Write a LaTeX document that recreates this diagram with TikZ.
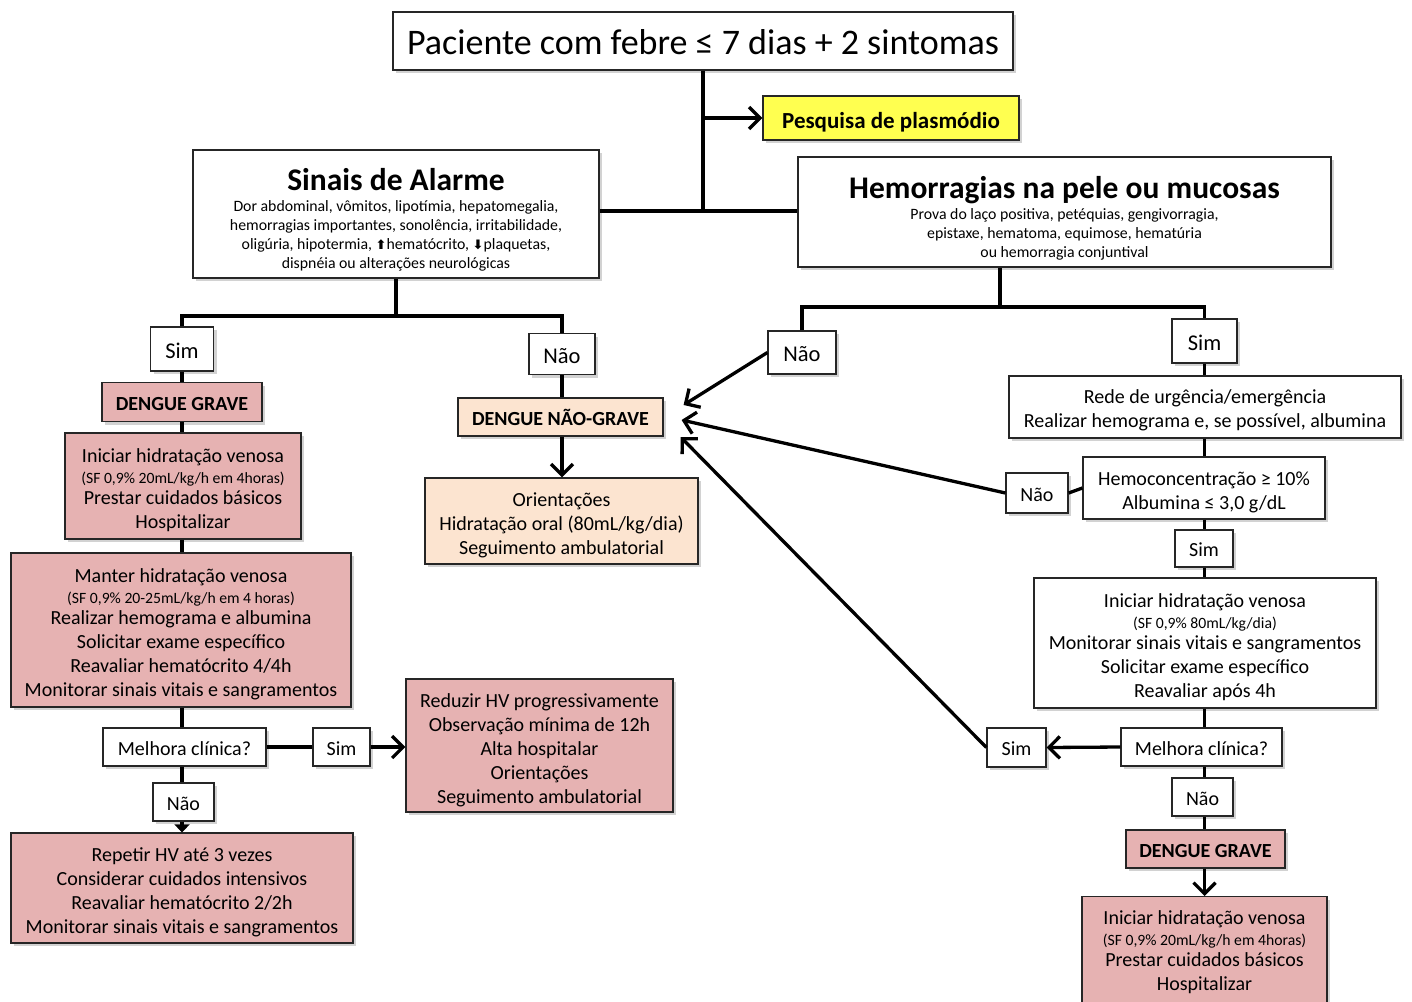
\documentclass[tikz,border=0pt]{standalone}
\usepackage{fontspec}
\setmainfont{Carlito}
\newfontfamily\symfont{DejaVu Sans}
\usetikzlibrary{arrows.meta,shadows,calc}
\definecolor{pinkfill}{RGB}{230,178,178}
\definecolor{peachfill}{RGB}{252,228,208}
\definecolor{yellowfill}{RGB}{255,255,80}
\newcommand\fsTitle{\fontsize{36}{40}\selectfont}
\newcommand\fsHead{\fontsize{31.5}{34}\selectfont\bfseries}
\newcommand\fsNorm{\fontsize{20}{24}\selectfont}
\newcommand\fsPar{\fontsize{15.7}{21}\selectfont}
\newcommand\fsDesc{\fontsize{15.8}{19}\selectfont}
\newcommand\fsLab{\fontsize{22.5}{26}\selectfont}
\newcommand\fsBold{\fontsize{20}{24}\selectfont\bfseries}
\newcommand\upar{{\symfont\bfseries\fontsize{13}{13}\selectfont ⬆}}
\newcommand\dnar{{\symfont\bfseries\fontsize{13}{13}\selectfont ⬇}}
\newcommand\dn[1]{\rule{0pt}{#1pt}}
\tikzset{
  box/.style={draw=black!85, line width=1.2pt, fill=white, align=center, inner sep=3pt,
    drop shadow={shadow xshift=3pt, shadow yshift=-3pt, opacity=0.35}},
  wh/.style 2 args={minimum width=#1pt, minimum height=#2pt},
  conn/.style={line width=3.3pt},
  arr/.style={conn, -{Straight Barb[length=11pt,width=22pt]}},
  tri/.style={conn, -{Triangle[length=8pt,width=15pt]}}
}
\begin{document}
\begin{tikzpicture}[x=1pt,y=-1pt]
\fill[white] (0,0) rectangle (1412,1001);
\clip (0,0) rectangle (1412,1001);
% top
\node[box, wh={620}{58}, font=\fsTitle] (top) at (703,41) {\dn{28}Paciente com febre ≤ 7 dias + 2 sintomas};
\node[box, fill=yellowfill, wh={256}{44}, font=\fontsize{23}{26}\selectfont\bfseries] (plas) at (891,118) {\dn{24}Pesquisa de plasmódio};
\node[box, wh={406}{128}, font=\fsDesc] (alarme) at (396,214) {\dn{34}{\fsHead Sinais de Alarme}\\[2pt] Dor abdominal, vômitos, lipotímia, hepatomegalia,\\ hemorragias importantes, sonolência, irritabilidade,\\ oligúria, hipotermia, \upar hematócrito, \dnar plaquetas,\\ dispnéia ou alterações neurológicas};
\node[box, wh={533}{110}, font=\fsDesc] (hemo) at (1064.5,212) {\dn{34}{\fsHead Hemorragias na pele ou mucosas}\\[2pt] Prova do laço positiva, petéquias, gengivorragia,\\ epistaxe, hematoma, equimose, hematúria\\ ou hemorragia conjuntival};
% left column
\node[box, wh={63}{44}, font=\fsLab] (simA) at (182,349) {\dn{19}Sim};
\node[box, wh={66}{41}, font=\fsLab] (naoA) at (562,354) {\dn{19}Não};
\node[box, fill=pinkfill, wh={160}{39}, font=\fsBold] (graveA) at (182,402) {\dn{17}DENGUE GRAVE};
\node[box, fill=pinkfill, wh={236}{106}, font=\fsNorm] (iniA) at (183,486) {\dn{22}Iniciar hidratação venosa\\[-3pt] {\fsPar (SF 0,9\% 20mL/kg/h em 4horas)}\\[-3pt] Prestar cuidados básicos\\ Hospitalizar};
\node[box, fill=pinkfill, wh={340}{154}, font=\fsNorm] (manA) at (181,630) {\dn{22}Manter hidratação venosa\\[-3pt] {\fsPar (SF 0,9\% 20-25mL/kg/h em 4 horas)}\\[-3pt] Realizar hemograma e albumina\\ Solicitar exame específico\\ Reavaliar hematócrito 4/4h\\ Monitorar sinais vitais e sangramentos};
\node[box, wh={163}{38}, font=\fsNorm] (melA) at (184.5,747) {\dn{17}Melhora clínica?};
\node[box, wh={57}{38}, font=\fsNorm] (simB) at (341.5,747) {\dn{17}Sim};
\node[box, fill=pinkfill, wh={267}{133}, font=\fsNorm] (redA) at (539.5,745.5) {\dn{23}Reduzir HV progressivamente\\ Observação mínima de 12h\\ Alta hospitalar\\ Orientações\\ Seguimento ambulatorial};
\node[box, wh={61}{38}, font=\fsNorm] (naoB) at (183.5,802) {\dn{17}Não};
\node[box, fill=pinkfill, wh={342}{110}, font=\fsNorm] (repA) at (182,888) {\dn{22}Repetir HV até 3 vezes\\ Considerar cuidados intensivos\\ Reavaliar hematócrito 2/2h\\ Monitorar sinais vitais e sangramentos};
% middle
\node[box, fill=peachfill, wh={205}{38}, font=\fsBold] (ngA) at (560.5,417) {\dn{17}DENGUE NÃO-GRAVE};
\node[box, fill=peachfill, wh={273}{86}, font=\fsNorm] (oriA) at (561.5,521) {\dn{22}Orientações\\ Hidratação oral (80mL/kg/dia)\\ Seguimento ambulatorial};
% right column
\node[box, wh={68}{43}, font=\fsLab] (naoC) at (802,352.5) {\dn{19}Não};
\node[box, wh={65}{44}, font=\fsLab] (simC) at (1204.5,341) {\dn{19}Sim};
\node[box, wh={392}{62}, font=\fsNorm] (rede) at (1205,407) {\dn{21}Rede de urgência/emergência\\ Realizar hemograma e, se possível, albumina};
\node[box, wh={242}{62}, font=\fsNorm] (hemoc) at (1204,488) {\dn{22}Hemoconcentração ≥ 10\%\\ Albumina ≤ 3,0 g/dL};
\node[box, wh={62}{40}, font=\fsNorm] (naoD) at (1037,493) {\dn{17}Não};
\node[box, wh={58}{37}, font=\fsNorm] (simD) at (1204,548.5) {\dn{17}Sim};
\node[box, wh={342}{130}, font=\fsNorm] (iniC) at (1205,643) {\dn{22}Iniciar hidratação venosa\\[-3pt] {\fsPar (SF 0,9\% 80mL/kg/dia)}\\[-3pt] Monitorar sinais vitais e sangramentos\\ Solicitar exame específico\\ Reavaliar após 4h};
\node[box, wh={161}{38}, font=\fsNorm] (melC) at (1201.5,747) {\dn{17}Melhora clínica?};
\node[box, wh={59}{39}, font=\fsNorm] (simE) at (1016.5,747.5) {\dn{17}Sim};
\node[box, wh={61}{38}, font=\fsNorm] (naoE) at (1202.5,797) {\dn{17}Não};
\node[box, fill=pinkfill, wh={159}{38}, font=\fsBold] (graveC) at (1205.5,849) {\dn{17}DENGUE GRAVE};
\node[box, fill=pinkfill, wh={245}{112}, font=\fsNorm, anchor=north] (iniD) at (1204.5,896) {Iniciar hidratação venosa\\[-3pt] {\fsPar (SF 0,9\% 20mL/kg/h em 4horas)}\\[-3pt] Prestar cuidados básicos\\ Hospitalizar};
% connectors top
\coordinate (jA) at (703,211);
\draw[conn] (top.south) -- (jA);
\draw[conn] (alarme.east |- jA) -- (hemo.west |- jA);
\draw[arr] (top.south |- plas.west) -- (plas.west);
% left tree
\coordinate (jB) at (396,316);
\draw[conn] (alarme.south) -- (jB);
\draw[conn] (simA.north) -- (simA.north |- jB) -- (naoA.north |- jB) -- (naoA.north);
\draw[conn] (simA.south) -- (simA.south |- graveA.north);
\draw[conn] (simA.south |- graveA.south) -- (simA.south |- iniA.north);
\draw[conn] (simA.south |- iniA.south) -- (simA.south |- manA.north);
\draw[conn] (simA.south |- manA.south) -- (simA.south |- melA.north);
\draw[conn] (melA.east) -- (simB.west);
\draw[arr] (simB.east) -- (redA.west |- simB.east);
\draw[conn] (simA.south |- melA.south) -- (simA.south |- naoB.north);
\draw[tri] (simA.south |- naoB.south) -- (simA.south |- repA.north);
% middle
\draw[conn] (naoA.south) -- (naoA.south |- ngA.north);
\draw[arr] (naoA.south |- ngA.south) -- (naoA.south |- oriA.north);
% right tree
\coordinate (jC) at (1000,307);
\draw[conn] (jC |- hemo.south) -- (jC);
\draw[conn] (naoC.north) -- (naoC.north |- jC) -- (simC.north |- jC) -- (simC.north);
\draw[conn] (simC.south) -- (simC.south |- rede.north);
\draw[conn] (simC.south |- rede.south) -- (simC.south |- hemoc.north);
\draw[conn] (hemoc.west) -- (naoD.east);
\draw[conn] (simC.south |- hemoc.south) -- (simC.south |- simD.north);
\draw[conn] (simC.south |- simD.south) -- (simC.south |- iniC.north);
\draw[conn] (simC.south |- iniC.south) -- (simC.south |- melC.north);
\draw[arr] (melC.west) -- (simE.east);
\draw[conn] (simC.south |- melC.south) -- (simC.south |- naoE.north);
\draw[conn] (simC.south |- naoE.south) -- (simC.south |- graveC.north);
\draw[arr] (simC.south |- graveC.south) -- (simC.south |- iniD.north);
% arrows back to DENGUE NAO-GRAVE
\coordinate (e1) at ($(ngA.east)+(20,-12)$);
\coordinate (e2) at ($(ngA.east)+(18,3)$);
\coordinate (e3) at ($(ngA.east)+(17,20)$);
\draw[arr] (naoC.west) -- (e1);
\draw[arr] (naoD.west) -- (e2);
\draw[arr] (simE.west) -- (e3);
\end{tikzpicture}
\end{document}
